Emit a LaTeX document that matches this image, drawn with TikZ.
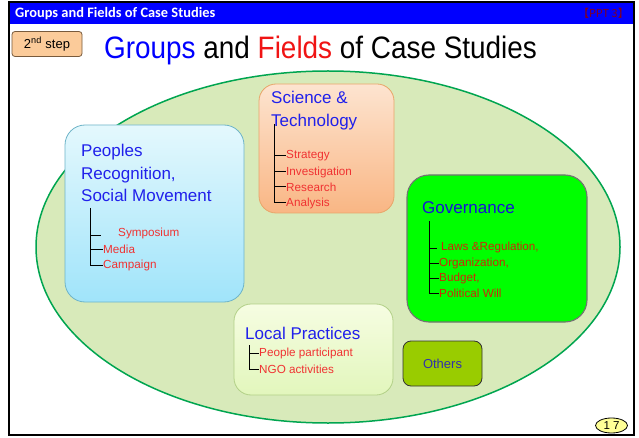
\documentclass[tikz,border=0pt]{standalone}
\usepackage{fontspec}
\setmainfont{Liberation Sans}
\newfontfamily\barfont{Carlito}
\newfontfamily\headfont[FakeStretch=0.9]{Liberation Sans}
\newfontfamily\cjkfont{Noto Sans CJK JP}
\usetikzlibrary{shapes.geometric}

\definecolor{barblue}{RGB}{0,0,255}
\definecolor{pptred}{RGB}{130,0,30}
\definecolor{headblue}{RGB}{32,32,235}
\definecolor{titlered}{RGB}{240,20,20}
\definecolor{itemred}{RGB}{240,50,50}
\definecolor{govred}{RGB}{205,40,10}
\definecolor{ovalgreen}{RGB}{0,165,80}
\definecolor{ovalfill}{RGB}{216,234,186}
\definecolor{stepfill}{RGB}{251,203,154}
\definecolor{stepline}{RGB}{120,90,60}

\begin{document}
\begin{tikzpicture}[x=1pt,y=-1pt,
  card/.style={draw, line width=0.8pt, inner sep=0pt},
  head/.style={inner sep=0pt, text=headblue, align=left,
    font=\fontsize{17}{22.5}\selectfont},
  itemtext/.style={anchor=west, inner sep=0pt, text=itemred,
    font=\fontsize{11.7}{14}\selectfont},
  tree/.style={line width=1pt, black}]

\useasboundingbox (0,0) rectangle (639,438);
\fill[white] (0,0) rectangle (639,438);

% title bar
\fill[barblue] (9,2) rectangle (634,24);
\node[anchor=west, inner sep=0pt, text=white,
  font=\barfont\bfseries\fontsize{14.4}{16}\selectfont] (bar) at (15,13.5)
  {Groups and Fields of Case Studies};
\node[anchor=east, inner sep=0pt, text=pptred,
  font=\cjkfont\fontsize{11}{13}\selectfont] (ppt) at (629,13) {【PPT 3】};

% step tag and heading
\node[draw=stepline, fill=stepfill, rounded corners=3pt, line width=0.8pt,
  minimum width=70pt, minimum height=25pt, inner sep=0pt,
  font=\fontsize{13}{15}\selectfont] (step) at (47,44)
  {2\textsuperscript{nd} step};
\node[anchor=west, inner sep=0pt, font=\headfont\fontsize{31}{36}\selectfont]
  (title) at (104,50)
  {\textcolor{barblue}{Groups} and \textcolor{titlered}{Fields} of Case Studies};

% field oval
\draw[ovalgreen, fill=ovalfill, line width=1.5pt]
  (328,247) ellipse [x radius=292pt, y radius=176pt];

% Peoples recognition
\node[card, draw={rgb,255:red,110;green,180;blue,200}, rounded corners=20pt,
  top color={rgb,255:red,228;green,248;blue,253},
  bottom color={rgb,255:red,160;green,228;blue,250},
  minimum width=179pt, minimum height=177pt] (pr) at (154.5,213.5) {};
\node[head, anchor=north west] (pr-head) at (81,144)
  {Peoples\\Recognition,\\Social Movement};
\node[itemtext] (pr-1) at (118,233) {Symposium};
\node[itemtext] (pr-2) at (103,249) {Media};
\node[itemtext] (pr-3) at (103,265) {Campaign};
\coordinate (pr-root) at (90,208);
\coordinate (pr-tick) at (101,235);
\draw[tree] (pr-root) |- (pr-3.west);
\draw[tree] (pr-root |- pr-tick) -- (pr-tick);
\draw[tree] (pr-root |- pr-2.west) -- (pr-2.west);

% Science and technology
\node[card, draw={rgb,255:red,232;green,165;blue,105}, rounded corners=17pt,
  top color={rgb,255:red,253;green,228;blue,208},
  bottom color={rgb,255:red,249;green,182;blue,132},
  minimum width=135pt, minimum height=129pt] (st) at (326.5,148.5) {};
\node[head, anchor=north west] (st-head) at (271,91)
  {Science \&\\Technology};
\node[itemtext] (st-1) at (286,156) {Strategy};
\node[itemtext] (st-2) at (286,172) {Investigation};
\node[itemtext] (st-3) at (286,187) {Research};
\node[itemtext] (st-4) at (286,203) {Analysis};
\coordinate (st-root) at (274,124);
\draw[tree] (st-root) |- (st-4.west);
\draw[tree] (st-root |- st-1.west) -- (st-1.west);
\draw[tree] (st-root |- st-2.west) -- (st-2.west);
\draw[tree] (st-root |- st-3.west) -- (st-3.west);

% Governance
\node[card, draw={rgb,255:red,115;green,115;blue,115}, line width=1.1pt,
  rounded corners=22pt, fill={rgb,255:red,0;green,255;blue,0},
  minimum width=180pt, minimum height=147pt] (gv) at (497,248.5) {};
\node[head, anchor=west, text={rgb,255:red,20;green,20;blue,215}] (gv-head)
  at (422,208) {Governance};
\node[itemtext, text=govred] (gv-1) at (441,247) {Laws \&Regulation,};
\node[itemtext, text=govred] (gv-2) at (439,263) {Organization,};
\node[itemtext, text=govred] (gv-3) at (439,278) {Budget,};
\node[itemtext, text=govred] (gv-4) at (439,293) {Political Will};
\coordinate (gv-root) at (429,221);
\coordinate (gv-tick) at (437,248);
\draw[tree] (gv-root) |- (gv-4.west);
\draw[tree] (gv-root |- gv-tick) -- (gv-tick);
\draw[tree] (gv-root |- gv-2.west) -- (gv-2.west);
\draw[tree] (gv-root |- gv-3.west) -- (gv-3.west);

% Local practices
\node[card, draw={rgb,255:red,178;green,208;blue,135}, rounded corners=17pt,
  top color={rgb,255:red,246;green,253;blue,226},
  bottom color={rgb,255:red,226;green,246;blue,188},
  minimum width=159pt, minimum height=91pt] (lp) at (313.5,349.5) {};
\node[head, anchor=west] (lp-head) at (245,333) {Local Practices};
\node[itemtext] (lp-1) at (259,353) {People participant};
\node[itemtext] (lp-2) at (259,369) {NGO activities};
\coordinate (lp-root) at (249,345);
\draw[tree] (lp-root) |- (lp-2.west);
\draw[tree] (lp-root |- lp-1.west) -- (lp-1.west);

% Others
\node[card, draw={rgb,255:red,50;green,50;blue,50}, rounded corners=8pt,
  fill={rgb,255:red,153;green,204;blue,0},
  minimum width=79pt, minimum height=45pt,
  text={rgb,255:red,50;green,50;blue,170},
  font=\fontsize{13}{15}\selectfont] (ot) at (442.5,363.5) {Others};

% page number
\node[ellipse, draw=black, line width=0.8pt,
  fill={rgb,255:red,255;green,255;blue,150},
  minimum width=32pt, minimum height=15pt, inner sep=0pt,
  font=\fontsize{11.5}{13}\selectfont] (page) at (611.5,425.5) {1 7};

% slide frame
\draw[black, line width=2.5pt] (9,2) rectangle (634,435);
\end{tikzpicture}
\end{document}
